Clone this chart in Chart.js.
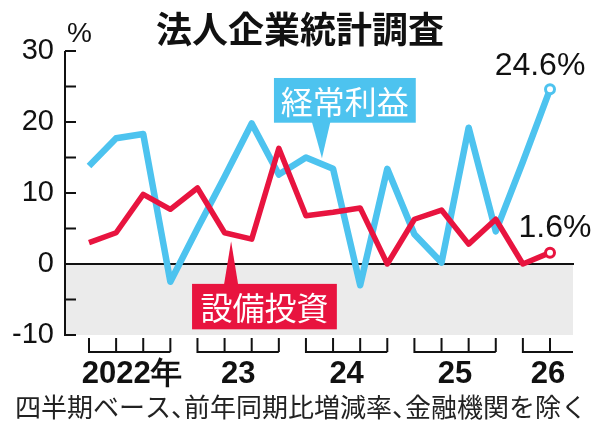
<!DOCTYPE html>
<html lang="ja">
<head>
<meta charset="utf-8">
<script src="https://cdn.jsdelivr.net/npm/chart.js@4"></script>
<style>
  html, body { margin: 0; padding: 0; background: #fff; }
  #wrap { width: 600px; height: 425px; }
</style>
</head>
<body>
<div id="wrap"><canvas id="chart" width="600" height="425"></canvas></div>
<script>
// quarters shown on the chart (year + quarter)
const quarters = ['2022Q1', '2022Q2', '2022Q3', '2022Q4',
                  '2023Q1', '2023Q2', '2023Q3', '2023Q4',
                  '2024Q1', '2024Q2', '2024Q3', '2024Q4',
                  '2025Q1', '2025Q2', '2025Q3', '2025Q4',
                  '2026Q1', '2026Q2'];
// 経常利益 (ordinary profit), % change y/y
const keijoRieki = [13.8, 17.7, 18.3, -2.5, 5.0, 12.3, 19.8, 12.6,
                    15.0, 13.4, -3.0, 13.4, 4.2, 0.2, 19.2, 4.6,
                    14.4, 24.6];
// 設備投資 (capital investment), % change y/y
const setsubiToshi = [3.0, 4.4, 9.8, 7.7, 10.7, 4.4, 3.5, 16.3,
                      6.8, 7.3, 7.9, 0.0, 6.3, 7.6, 2.8, 6.3,
                      0.0, 1.6];
const yearLabels = { '2022': '2022年', '2023': '23', '2024': '24', '2025': '25', '2026': '26' };
const yMin = -10, yMax = 30, yStep = 5;

const BLUE = '#4dc3ef';
const RED = '#e8143f';
const CJK = '"Noto Sans CJK JP", "Noto Sans", sans-serif';
const NUM = '"Liberation Sans", Arial, sans-serif';

function points(values) {
    return values.map((v, i) => ({ x: i, y: v }));
}

// draws text with half-width 、 like newspaper typesetting
function drawTight(ctx, text, cx, cy, size) {
    const parts = text.split(/(、)/).filter(Boolean);
    const widths = parts.map(p => (p === '、' ? size * 0.5 : ctx.measureText(p).width));
    let px = cx - widths.reduce((s, w) => s + w, 0) / 2;
    ctx.textAlign = 'left';
    parts.forEach((p, i) => {
        ctx.fillText(p, px, cy);
        px += widths[i];
    });
}

// draws the shaded negative band, axis, brackets and all annotations
const decorations = {
    id: 'decorations',
    beforeDatasetsDraw(chart) {
        const { ctx, chartArea: a, scales: { y } } = chart;
        ctx.save();
        // grey band below zero
        ctx.fillStyle = '#ebebeb';
        ctx.fillRect(a.left, y.getPixelForValue(0), a.right - a.left, y.getPixelForValue(yMin) - y.getPixelForValue(0));
        // zero line
        ctx.strokeStyle = '#111';
        ctx.lineWidth = 2;
        ctx.beginPath();
        ctx.moveTo(a.left, y.getPixelForValue(0));
        ctx.lineTo(a.right + 1, y.getPixelForValue(0));
        ctx.stroke();
        // y axis with inner ticks
        ctx.beginPath();
        ctx.moveTo(a.left, a.top);
        ctx.lineTo(a.left, a.bottom + 1);
        for (let v = yMin; v <= yMax; v += yStep) {
            const py = y.getPixelForValue(v);
            ctx.moveTo(a.left, py);
            ctx.lineTo(a.left + 11, py);
        }
        ctx.stroke();
        ctx.restore();
    },
    afterDraw(chart) {
        const { ctx, chartArea: a, scales: { x, y } } = chart;
        ctx.save();

        // title
        ctx.fillStyle = '#111';
        ctx.textAlign = 'center';
        ctx.textBaseline = 'middle';
        ctx.font = `bold 36px ${CJK}`;
        ctx.fillText('法人企業統計調査', 300, 29);

        // unit
        ctx.font = `28px ${NUM}`;
        ctx.textAlign = 'left';
        ctx.fillText('%', a.left + 2, 34);

        // year brackets under the x axis
        const groups = [];
        quarters.forEach((q, i) => {
            const yr = q.slice(0, 4);
            let g = groups[groups.length - 1];
            if (!g || g.year !== yr) { g = { year: yr, first: i, last: i }; groups.push(g); }
            g.last = i;
        });
        ctx.strokeStyle = '#111';
        ctx.lineWidth = 2;
        const top = a.bottom + 3, base = a.bottom + 17;
        groups.forEach((g, gi) => {
            const x0 = x.getPixelForValue(g.first);
            const x1 = x.getPixelForValue(g.last);
            const open = gi === groups.length - 1 && g.last - g.first < 3;
            const xEnd = open ? a.right : x1;
            ctx.beginPath();
            for (let i = g.first; i <= g.last; i++) {
                const px = x.getPixelForValue(i);
                ctx.moveTo(px, top);
                ctx.lineTo(px, base);
            }
            ctx.moveTo(x0 - 1, base);
            ctx.lineTo(xEnd, base);
            ctx.stroke();
            ctx.fillStyle = '#111';
            ctx.textAlign = 'center';
            ctx.textBaseline = 'middle';
            ctx.font = `bold 31px ${NUM}`;
            const label = yearLabels[g.year];
            const cx = (x0 + xEnd) / 2 + (label.length > 2 ? 2 : 0);
            ctx.fillText(label, cx, a.bottom + 39);
        });

        // footnote
        ctx.font = `26px ${CJK}`;
        ctx.fillStyle = '#222';
        ctx.textBaseline = 'middle';
        drawTight(ctx, '四半期ベース、前年同期比増減率、金融機関を除く', 301, 407, 26);

        // series callouts
        function callout(text, color, box, tip, baseY, baseX0, baseX1) {
            ctx.fillStyle = color;
            const l = x.getPixelForValue(box[0]), r = x.getPixelForValue(box[1]);
            const t = y.getPixelForValue(box[2]), b = y.getPixelForValue(box[3]);
            ctx.fillRect(l, t, r - l, b - t);
            ctx.beginPath();
            ctx.moveTo(x.getPixelForValue(baseX0), y.getPixelForValue(baseY));
            ctx.lineTo(x.getPixelForValue(tip[0]), y.getPixelForValue(tip[1]));
            ctx.lineTo(x.getPixelForValue(baseX1), y.getPixelForValue(baseY));
            ctx.closePath();
            ctx.fill();
            ctx.fillStyle = '#fff';
            ctx.font = `32px ${CJK}`;
            ctx.textAlign = 'center';
            ctx.textBaseline = 'middle';
            ctx.fillText(text, (l + r) / 2, (t + b) / 2 + 1);
        }
        callout('経常利益', BLUE, [6.82, 12.05, 26.2, 19.9], [8.59, 14.9], 20.0, 8.22, 8.9);
        callout('設備投資', RED, [3.8, 9.14, -2.8, -9.2], [5.24, 3.2], -2.9, 4.98, 5.5);

        // latest values
        ctx.fillStyle = '#111';
        ctx.font = `32px ${NUM}`;
        ctx.textAlign = 'center';
        ctx.textBaseline = 'middle';
        const n = quarters.length - 1;
        ctx.fillText(keijoRieki[n].toFixed(1) + '%', x.getPixelForValue(n) - 10, y.getPixelForValue(keijoRieki[n]) - 23);
        ctx.fillText(setsubiToshi[n].toFixed(1) + '%', x.getPixelForValue(n) + 5, y.getPixelForValue(setsubiToshi[n]) - 24);
        ctx.restore();
    }
};

const lastOnly = (r) => (ctx) => ctx.dataIndex === quarters.length - 1 ? r : 0;

new Chart(document.getElementById('chart'), {
    type: 'line',
    data: {
        datasets: [{
            label: '設備投資',
            data: points(setsubiToshi),
            borderColor: RED,
            borderWidth: 5.5,
            borderJoinStyle: 'round',
            pointRadius: lastOnly(4.5),
            pointBorderWidth: 3,
            pointBackgroundColor: '#fff',
            pointBorderColor: RED,
            tension: 0
        }, {
            label: '経常利益',
            data: points(keijoRieki),
            borderColor: BLUE,
            borderWidth: 6.5,
            borderJoinStyle: 'round',
            pointRadius: lastOnly(4.5),
            pointBorderWidth: 3,
            pointBackgroundColor: '#fff',
            pointBorderColor: BLUE,
            tension: 0
        }]
    },
    options: {
        responsive: false,
        animation: false,
        layout: { padding: { top: 51, bottom: 90, left: 0, right: 27 } },
        plugins: { legend: { display: false }, tooltip: { enabled: false } },
        scales: {
            x: {
                type: 'linear',
                display: false,
                min: -0.885,
                max: 17.848
            },
            y: {
                min: yMin,
                max: yMax,
                grid: { display: false, drawTicks: false },
                border: { display: false },
                afterFit(scale) { scale.width = 65; },
                ticks: {
                    stepSize: yStep,
                    autoSkip: false,
                    padding: 11,
                    color: '#111',
                    font: { family: NUM, size: 29 },
                    callback: (v) => (v % 10 === 0 ? String(v) : '')
                }
            }
        }
    },
    plugins: [decorations]
});
</script>
</body>
</html>
